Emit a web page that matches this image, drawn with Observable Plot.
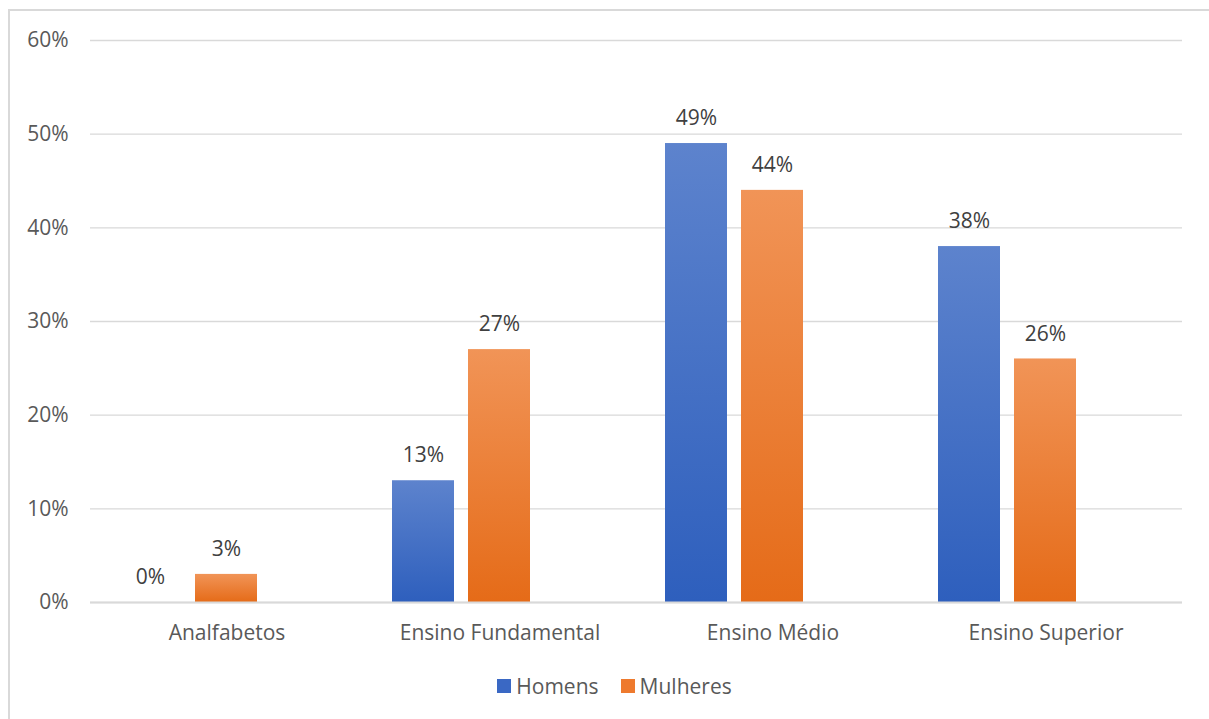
<!DOCTYPE html>
<html>
<head>
<meta charset="utf-8">
<script src="https://cdn.jsdelivr.net/npm/d3@7"></script>
<script src="https://cdn.jsdelivr.net/npm/@observablehq/plot@0.6"></script>
<style>
  html, body { margin: 0; padding: 0; background: #fff; overflow: hidden; }
  #wrap { position: relative; width: 1209px; height: 719px; }
  #frame { position: absolute; left: 8px; top: 9px; width: 1230px; height: 730px; border: 2px solid #d9d9d9; box-sizing: border-box; }
  #chart { position: absolute; left: 0; top: 0; }
  #legend { position: absolute; left: 0; top: 672px; width: 1229px; display: flex; justify-content: center; gap: 22px;
            font-family: "Open Sans", sans-serif; font-size: 21px; color: #595959; }
  .item { display: flex; align-items: center; gap: 5px; }
  .sw { width: 14px; height: 14px; display: inline-block; }
</style>
</head>
<body>
<div id="wrap">
  <div id="frame"></div>
  <div id="chart"></div>
  <div id="legend"></div>
</div>
<script>
const categories = ["Analfabetos", "Ensino Fundamental", "Ensino Médio", "Ensino Superior"];
const series = ["Homens", "Mulheres"];
const homens = [0, 13, 49, 38];
const mulheres = [3, 27, 44, 26];
const yTicks = [0, 10, 20, 30, 40, 50, 60];

const data = [];
categories.forEach((c, i) => {
  data.push({cat: c, serie: "Homens", v: homens[i]});
  data.push({cat: c, serie: "Mulheres", v: mulheres[i]});
});

const font = "'Open Sans', sans-serif";
const plot = Plot.plot({
  width: 1209,
  height: 660,
  marginLeft: 89,
  marginRight: 26,
  marginTop: 40,
  marginBottom: 58,
  style: {fontFamily: font, fontSize: "21px", color: "#595959", background: "transparent"},
  fx: {domain: categories, padding: 0, label: null, tickSize: 0, tickPadding: 23},
  x: {domain: ["Homens", "Mulheres", "_"], paddingInner: 14 / 77, paddingOuter: 0.365, axis: null},
  y: {domain: [0, 60], ticks: yTicks, tickFormat: d => d + "%", label: null, tickSize: 0, tickPadding: 22},
  color: {domain: series, range: ["url(#gBlue)", "url(#gOrange)"]},
  marks: [
    Plot.gridY(yTicks, {stroke: "#d9d9d9", strokeOpacity: 1, strokeWidth: 1.3}),
    Plot.barY(data, {fx: "cat", x: "serie", y: "v", fill: "serie", filter: d => d.v > 0}),
    Plot.ruleY([0], {stroke: "#d9d9d9", strokeWidth: 2}),
    Plot.text(data, {fx: "cat", x: "serie", y: "v", text: d => d.v + "%", dy: -25, fill: "#404040", fontSize: 21})
  ]
});

const defs = d3.select(plot).insert("defs", ":first-child");
function grad(id, top, bottom) {
  const g = defs.append("linearGradient").attr("id", id).attr("x1", 0).attr("y1", 0).attr("x2", 0).attr("y2", 1);
  g.append("stop").attr("offset", "0%").attr("stop-color", top);
  g.append("stop").attr("offset", "100%").attr("stop-color", bottom);
}
grad("gBlue", "#5d83cd", "#2e5fbd");
grad("gOrange", "#f19457", "#e56b18");
document.getElementById("chart").appendChild(plot);

const legend = document.getElementById("legend");
[["Homens", "#3a68c4"], ["Mulheres", "#ee7a2e"]].forEach(([n, c]) => {
  const it = document.createElement("div");
  it.className = "item";
  it.innerHTML = `<span class="sw" style="background:${c}"></span><span>${n}</span>`;
  legend.appendChild(it);
});
</script>
</body>
</html>
